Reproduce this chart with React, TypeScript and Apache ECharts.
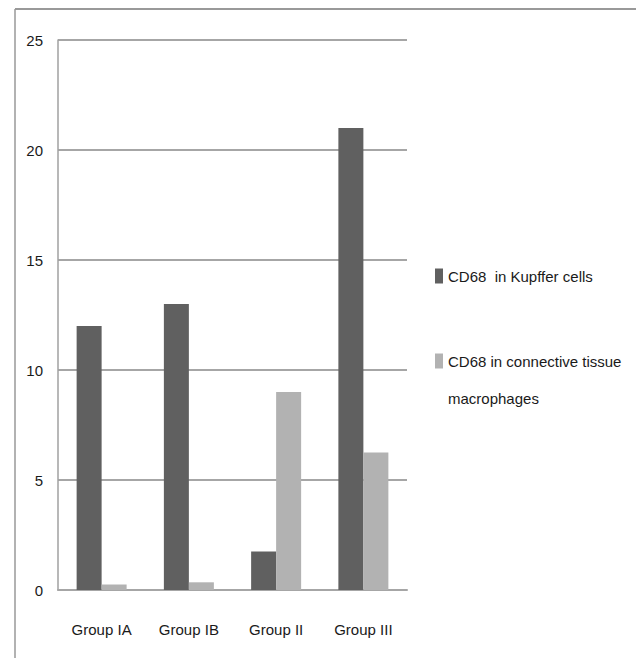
import React, { useEffect, useRef } from "react";
import * as echarts from "echarts";

// Categories and series values
const groups = ["Group IA", "Group IB", "Group II", "Group III"];
const seriesNames = ["CD68  in Kupffer cells", "CD68 in connective tissue macrophages"];
const kupfferValues = [12, 13, 1.75, 21];
const connectiveValues = [0.25, 0.35, 9, 6.25];
const seriesColors = ["#606060", "#b2b2b2"];

const FONT = '"Liberation Sans", Arial, sans-serif';
const FONT_SIZE = 15;
const TEXT_COLOR = "#1a1a1a";

export default function App() {
  const ref = useRef<HTMLDivElement>(null);

  useEffect(() => {
    if (!ref.current) return;
    const chart = echarts.init(ref.current, undefined, { renderer: "svg" });

    const legendX = 435;
    const legendY = [276, 361];

    chart.setOption({
      animation: false,
      backgroundColor: "#ffffff",
      grid: { left: 58, right: 229, top: 40, bottom: 68 },
      xAxis: {
        type: "category",
        data: groups,
        axisLine: { show: true, lineStyle: { color: "#a6a6a6", width: 2 } },
        axisTick: { show: false },
        axisLabel: {
          interval: 0,
          color: TEXT_COLOR,
          fontFamily: FONT,
          fontSize: FONT_SIZE,
          margin: 32,
        },
      },
      yAxis: {
        type: "value",
        min: 0,
        max: 25,
        interval: 5,
        axisLine: { show: true, lineStyle: { color: "#a0a0a0", width: 1.5 } },
        axisTick: { show: false },
        axisLabel: { color: TEXT_COLOR, fontFamily: FONT, fontSize: FONT_SIZE, margin: 15 },
        splitLine: { show: true, lineStyle: { color: "#a6a6a6", width: 2 } },
      },
      series: [
        {
          name: seriesNames[0],
          type: "bar",
          data: kupfferValues,
          barWidth: 25,
          barGap: "0%",
          itemStyle: { color: seriesColors[0] },
        },
        {
          name: seriesNames[1],
          type: "bar",
          data: connectiveValues,
          barWidth: 25,
          barGap: "0%",
          itemStyle: { color: seriesColors[1] },
        },
      ],
      graphic: [
        // outer frame (top and left edges)
        {
          type: "line",
          shape: { x1: 15, y1: 9, x2: 636, y2: 9 },
          style: { stroke: "#999", lineWidth: 2 },
        },
        {
          type: "line",
          shape: { x1: 15, y1: 9, x2: 15, y2: 658 },
          style: { stroke: "#999", lineWidth: 1.5 },
        },
        // legend
        ...seriesNames.flatMap((name, i) => [
          {
            type: "rect",
            shape: { x: legendX, y: legendY[i] - 7.5, width: 8, height: 15 },
            style: { fill: seriesColors[i] },
          },
          {
            type: "text",
            x: 448,
            y: legendY[i] - 18.5,
            style: {
              text: name,
              width: 184,
              overflow: "break",
              font: `${FONT_SIZE}px ${FONT}`,
              fill: TEXT_COLOR,
              lineHeight: 37,
              verticalAlign: "top",
              align: "left",
            },
          },
        ]),
      ],
    });

    return () => chart.dispose();
  }, []);

  return (
    <div
      ref={ref}
      style={{ position: "fixed", left: 0, top: 0, width: 636, height: 658 }}
    />
  );
}
